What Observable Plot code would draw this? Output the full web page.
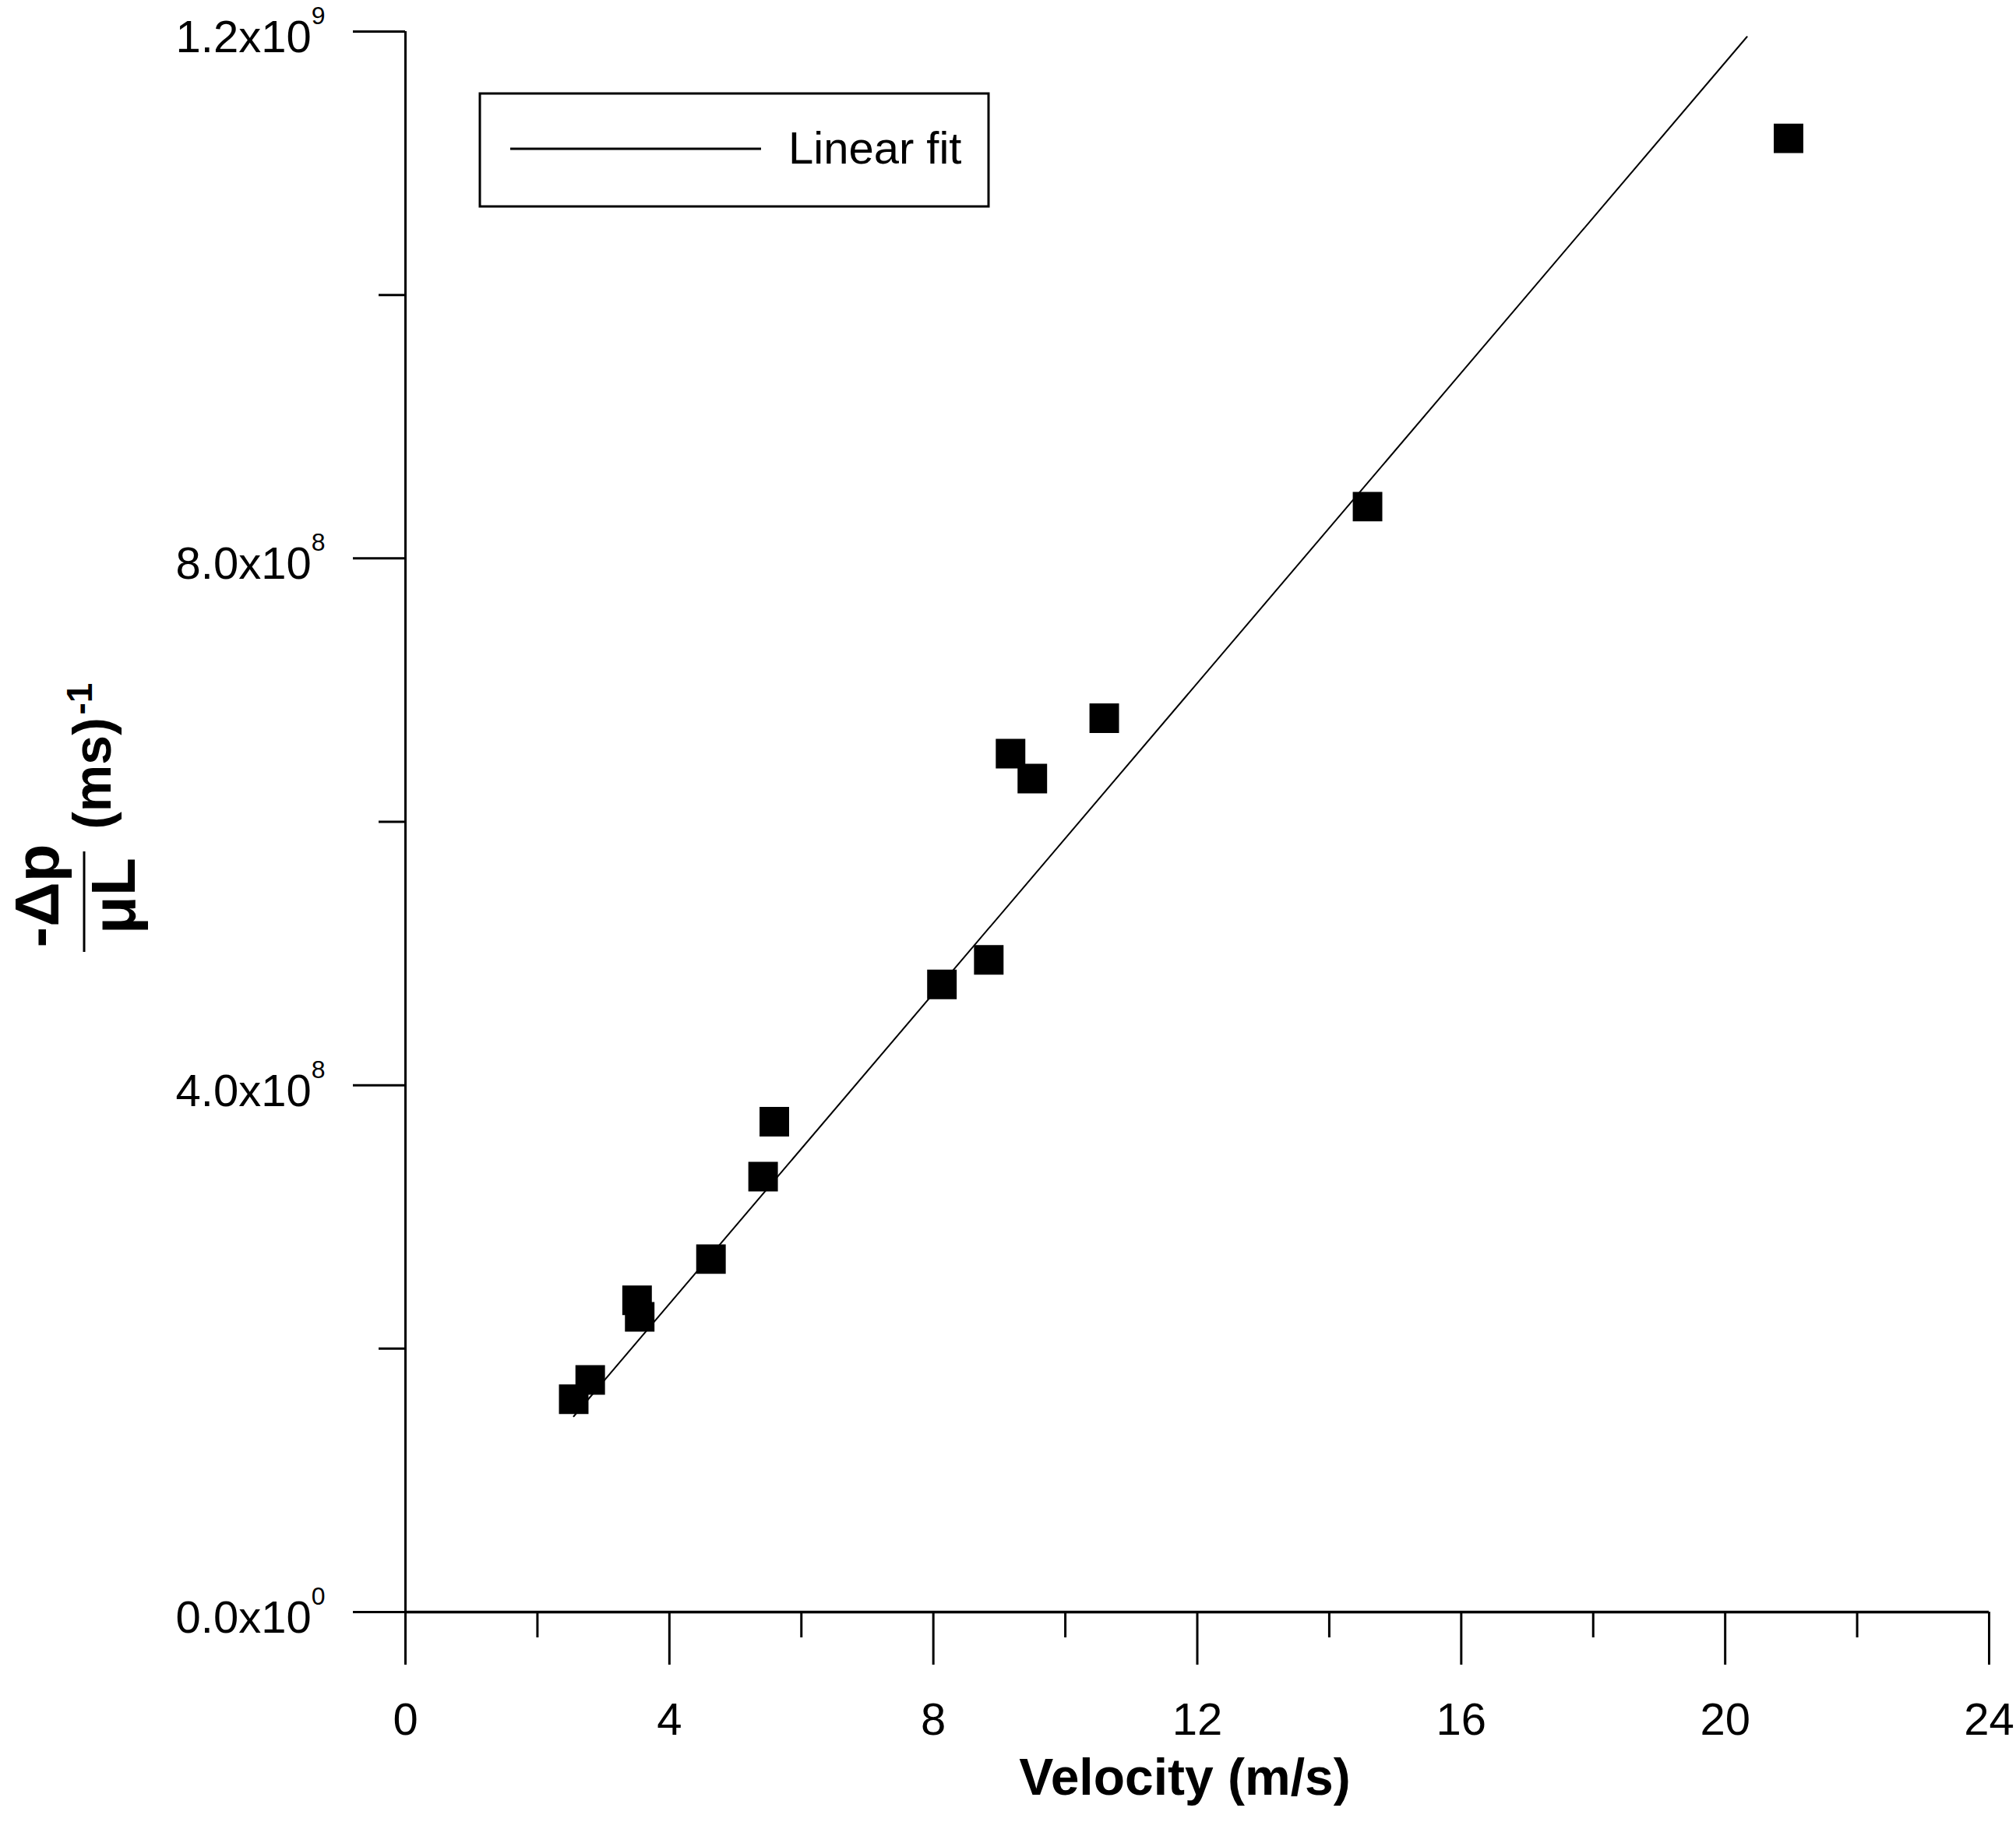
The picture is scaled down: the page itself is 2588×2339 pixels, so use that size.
<!DOCTYPE html>
<html>
<head>
<meta charset="utf-8">
<script src="https://cdn.jsdelivr.net/npm/d3@7"></script>
<script src="https://cdn.jsdelivr.net/npm/@observablehq/plot@0.6"></script>
<style>
  html, body { margin: 0; padding: 0; background: white; }
  #chart svg { display: block; }
</style>
</head>
<body>
<div id="chart"></div>
<script>
// Measured data points (velocity in m/s, -Δp/(μL) in (ms)^-1)
const velocity = [2.55, 2.80, 3.51, 3.55, 4.63, 5.42, 5.59, 8.13, 8.84, 9.17, 9.50, 10.59, 14.58, 20.96];
const pressureTerm = [1.616e8, 1.762e8, 2.367e8, 2.241e8, 2.68e8, 3.306e8, 3.723e8, 4.765e8, 4.952e8, 6.517e8, 6.328e8, 6.787e8, 8.393e8, 1.1189e9];

// Linear fit line end points
const fitVelocity = [2.55, 20.33];
const fitPressure = [1.486e8, 1.196e9];

// Ticks
const xMajorTicks = [0, 4, 8, 12, 16, 20, 24];
const xMinorTicks = [2, 6, 10, 14, 18, 22];
const yMajorTicks = [0, 4e8, 8e8, 1.2e9];
const yMinorTicks = [2e8, 6e8, 1e9];
const yTickMantissa = ["0.0x10", "4.0x10", "8.0x10", "1.2x10"];
const yTickExponent = ["0", "8", "8", "9"];

const xTitle = "Velocity (m/s)";
const legendLabel = "Linear fit";

const points = velocity.map((v, i) => ({v, p: pressureTerm[i]}));
const fit = fitVelocity.map((v, i) => ({v, p: fitPressure[i]}));

const W = 2588, H = 2339;
const FONT = "'Liberation Sans', Arial, sans-serif";

const plot = Plot.plot({
  width: W,
  height: H,
  marginLeft: 520,
  marginRight: 35,
  marginTop: 40,
  marginBottom: 270,
  x: {domain: [0, 24]},
  y: {domain: [0, 1.2e9]},
  style: {fontFamily: FONT, fontSize: "58px", color: "black", background: "white", overflow: "visible"},
  marks: [
    Plot.axisX(xMajorTicks, {tickSize: 68, tickPadding: 48, strokeWidth: 3, tickFormat: d => String(d), label: null, fontSize: 58}),
    Plot.axisX(xMinorTicks, {tickSize: 33, strokeWidth: 3, tickFormat: () => "", label: null}),
    Plot.axisY(yMajorTicks, {tickSize: 67, strokeWidth: 3, tickFormat: () => "", label: null}),
    Plot.axisY(yMajorTicks, {tickSize: 0, tickPadding: 103, dy: 8,
      tickFormat: d => yTickMantissa[yMajorTicks.indexOf(d)] + "^" + yTickExponent[yMajorTicks.indexOf(d)],
      label: null, fontSize: 58}),
    Plot.axisY(yMinorTicks, {tickSize: 34, strokeWidth: 3, tickFormat: () => "", label: null}),
    Plot.ruleY([0], {strokeWidth: 3.5}),
    Plot.ruleX([0], {strokeWidth: 3}),
    Plot.line(fit, {x: "v", y: "p", stroke: "black", strokeWidth: 2}),
    Plot.dot(points, {x: "v", y: "p", symbol: "square", r: 21.4, fill: "black", stroke: null})
  ]
});

document.getElementById("chart").appendChild(plot);

const svg = d3.select(plot);

// Superscript exponents on y tick labels
svg.selectAll('g[aria-label="y-axis tick label"] text').each(function() {
  const t = d3.select(this);
  const s = t.text();
  if (!s.includes("^")) return;
  const [m, e] = s.split("^");
  t.text(m);
  t.append("tspan").attr("dy", -36).attr("font-size", 32).text(e);
});

// X axis title
svg.append("text")
  .attr("x", 1521).attr("y", 2304)
  .attr("text-anchor", "middle")
  .attr("font-family", FONT)
  .attr("font-weight", "bold")
  .attr("font-size", 66)
  .text(xTitle);

// Y axis title: fraction  -Δp / μL (ms)^-1, rotated
const yl = svg.append("g")
  .attr("font-family", FONT)
  .attr("font-weight", "bold")
  .attr("text-anchor", "middle");
function rotText(x, y, size, str) {
  yl.append("text")
    .attr("transform", `translate(${x},${y}) rotate(-90)`)
    .attr("font-size", size)
    .text(str);
}
rotText(75, 1150, 80, "-\u0394p");
rotText(173, 1150, 80, "\u03bcL");
rotText(142, 993, 68, "(ms)");
rotText(118, 897, 46, "-1");
yl.append("line")
  .attr("x1", 108).attr("x2", 108)
  .attr("y1", 1093).attr("y2", 1222)
  .attr("stroke", "black").attr("stroke-width", 3);

// Legend
const lg = svg.append("g");
lg.append("rect")
  .attr("x", 616).attr("y", 120).attr("width", 653).attr("height", 145)
  .attr("fill", "white").attr("stroke", "black").attr("stroke-width", 3);
lg.append("line")
  .attr("x1", 655).attr("x2", 977).attr("y1", 191).attr("y2", 191)
  .attr("stroke", "black").attr("stroke-width", 3);
lg.append("text")
  .attr("x", 1012).attr("y", 210)
  .attr("text-anchor", "start")
  .attr("font-family", FONT)
  .attr("font-size", 58)
  .text(legendLabel);
</script>
</body>
</html>
